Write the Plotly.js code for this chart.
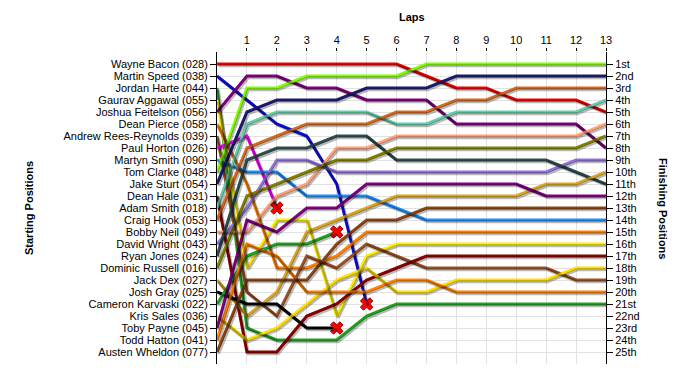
<!DOCTYPE html>
<html><head><meta charset="utf-8">
<script src="https://cdn.plot.ly/plotly-3.0.1.min.js"></script>
<style>html,body{margin:0;padding:0;background:#fff}#chart{width:700px;height:375px}</style>
</head><body><div id="chart"></div><script>
const laps = [0,1,2,3,4,5,6,7,8,9,10,11,12,13];
const lapTicks = [1,2,3,4,5,6,7,8,9,10,11,12,13];
const startNames = ['Wayne Bacon (028)','Martin Speed (038)','Jordan Harte (044)','Gaurav Aggawal (055)','Joshua Feitelson (056)','Dean Pierce (058)','Andrew Rees-Reynolds (039)','Paul Horton (026)','Martyn Smith (090)','Tom Clarke (048)','Jake Sturt (054)','Dean Hale (031)','Adam Smith (018)','Craig Hook (053)','Bobby Neil (049)','David Wright (043)','Ryan Jones (024)','Dominic Russell (016)','Jack Dex (027)','Josh Gray (025)','Cameron Karvaski (022)','Kris Sales (036)','Toby Payne (045)','Todd Hatton (041)','Austen Wheldon (077)'];
const finishLabels = ['1st','2nd','3rd','4th','5th','6th','7th','8th','9th','10th','11th','12th','13th','14th','15th','16th','17th','18th','19th','20th','21st','22nd','23rd','24th','25th'];

// position of each driver after each lap (lap 0 = grid); null = retired
const wayneBacon      = [1,1,1,1,1,1,1,2,3,3,4,4,4,5];
const martinSpeed     = [2,4,6,7,11,21,null,null,null,null,null,null,null,null];
const jordanHarte     = [3,23,24,24,24,22,21,21,21,21,21,21,21,21];
const gauravAggawal   = [4,18,14,14,22,17,16,16,16,16,16,16,16,16];
const joshuaFeitelson = [5,2,2,3,3,4,4,4,6,6,6,6,6,8];
const deanPierce      = [6,11,18,18,17,15,15,15,15,15,15,15,15,15];
const andrewRees      = [7,20,22,17,18,16,17,18,18,18,18,18,19,19];
const paulHorton      = [8,7,13,null,null,null,null,null,null,null,null,null,null,null];
const martynSmith     = [9,10,10,12,12,12,13,14,14,14,14,14,14,14];
const tomClarke       = [10,3,3,2,2,2,2,1,1,1,1,1,1,1];
const jakeSturt       = [11,5,4,4,4,3,3,3,2,2,2,2,2,2];
const deanHale        = [12,25,25,22,21,19,18,17,17,17,17,17,17,17];
const adamSmith       = [13,6,5,5,5,5,6,6,5,5,5,5,5,4];
const craigHook       = [14,8,7,6,6,6,5,5,4,4,3,3,3,3];
const bobbyNeil       = [15,15,12,11,8,8,7,7,7,7,7,7,7,6];
const davidWright     = [16,13,9,9,10,10,10,10,10,10,10,10,9,9];
const ryanJones       = [17,9,8,8,7,7,9,9,9,9,9,9,10,11];
const dominicRussell  = [18,12,11,10,9,9,8,8,8,8,8,8,8,7];
const jackDex         = [19,22,20,15,14,13,12,12,12,12,12,11,11,10];
const joshGray        = [20,21,21,23,23,null,null,null,null,null,null,null,null,null];
const cameronKarvaski = [21,17,16,16,15,null,null,null,null,null,null,null,null,null];
const krisSales       = [22,24,23,21,19,18,20,20,19,19,19,19,18,18];
const tobyPayne       = [23,14,15,13,13,11,11,11,11,11,11,12,12,12];
const toddHatton      = [24,16,17,20,20,20,19,19,20,20,20,20,20,20];
const austenWheldon   = [25,19,19,19,16,14,14,13,13,13,13,13,13,13];

const driverPositions = [wayneBacon,martinSpeed,jordanHarte,gauravAggawal,joshuaFeitelson,deanPierce,andrewRees,paulHorton,martynSmith,tomClarke,jakeSturt,deanHale,adamSmith,craigHook,bobbyNeil,davidWright,ryanJones,dominicRussell,jackDex,joshGray,cameronKarvaski,krisSales,tobyPayne,toddHatton,austenWheldon];
const lineColors = ['#ee0000','#1010e8','#22a022','#fff000','#800080','#ff8000','#9a5226','#ff00ff','#1e90ff','#80ff00','#1c1c6e','#8b0000','#66cdaa','#d2691e','#ffa07a','#9370db','#2f4f4f','#808000','#daa520','#000000','#22a022','#ffe000','#800080','#ff8000','#8b4513'];

const traces = [];
driverPositions.forEach((pos)=>{
  traces.push({x:laps,y:pos,xaxis:'x2',yaxis:'y3',mode:'lines',line:{color:'rgba(0,0,0,0.28)',width:3},hoverinfo:'skip',showlegend:false});
});
driverPositions.forEach((pos,i)=>{
  traces.push({x:laps,y:pos,mode:'lines',line:{color:lineColors[i],width:3},name:startNames[i],hoverinfo:'skip',showlegend:false});
});
// retirement markers at last recorded lap
const retX=[],retY=[];
driverPositions.forEach(pos=>{
  if(pos[pos.length-1]===null){
    let k=pos.length-1; while(pos[k]===null) k--;
    retX.push(laps[k]); retY.push(pos[k]);
  }
});
traces.push({x:retX,y:retY,mode:'markers',marker:{symbol:'x',size:11,color:'#ff0000',line:{color:'#900000',width:1}},hoverinfo:'skip',showlegend:false});
// finishing-order axis carrier (invisible)
const lastLap = laps[laps.length-1];
traces.push({x:driverPositions.map(()=>lastLap),y:driverPositions.map(p=>p[p.length-1]),yaxis:'y2',mode:'markers',marker:{opacity:0},hoverinfo:'skip',showlegend:false});

const posTicks = startNames.map((_,i)=>i+1);
const font = {family:'Liberation Sans, Arial, sans-serif',size:11,color:'#000'};
const layout = {
  width:700,height:375,margin:{l:217,r:94,t:52,b:11},
  paper_bgcolor:'#fff',plot_bgcolor:'#fff',font:font,showlegend:false,
  xaxis:{range:[0,13],side:'top',tickvals:lapTicks,ticks:'outside',ticklen:3,tickcolor:'#000',showgrid:true,gridcolor:'#e2e2e2',zeroline:false,showline:false,fixedrange:true,tickfont:font},
  xaxis2:{range:[-0.05,12.95],overlaying:'x',anchor:'y',visible:false,fixedrange:true},
  yaxis:{range:[26,0],tickvals:posTicks,ticktext:startNames,ticks:'outside',ticklen:6,tickcolor:'#000',showline:true,linecolor:'#000',linewidth:1,showgrid:true,gridcolor:'#e2e2e2',zeroline:false,fixedrange:true,tickfont:font},
  yaxis2:{range:[26,0],overlaying:'y',side:'right',anchor:'x',tickmode:'array',tickvals:posTicks,ticktext:finishLabels,ticks:'outside',ticklen:6,tickcolor:'#000',showline:true,linecolor:'#000',linewidth:1,showgrid:false,zeroline:false,fixedrange:true,tickfont:font},
  yaxis3:{range:[25.85,-0.15],overlaying:'y',anchor:'x',visible:false,fixedrange:true},
  annotations:[
    {text:'<b>Laps</b>',xref:'paper',yref:'paper',x:0.5,y:1,yanchor:'bottom',yshift:27,showarrow:false,font:{family:font.family,size:11,color:'#000'}},
    {text:'<b>Starting Positions</b>',xref:'paper',yref:'paper',x:0,y:0.5,xshift:-196,textangle:-90,showarrow:false,font:{family:font.family,size:11,color:'#000'}},
    {text:'<b>Finishing Positions</b>',xref:'paper',yref:'paper',x:1,y:0.5,xshift:65,textangle:90,showarrow:false,font:{family:font.family,size:11,color:'#000'}}
  ]
};
Plotly.newPlot('chart',traces,layout,{displayModeBar:false,staticPlot:true});
</script></body></html>
